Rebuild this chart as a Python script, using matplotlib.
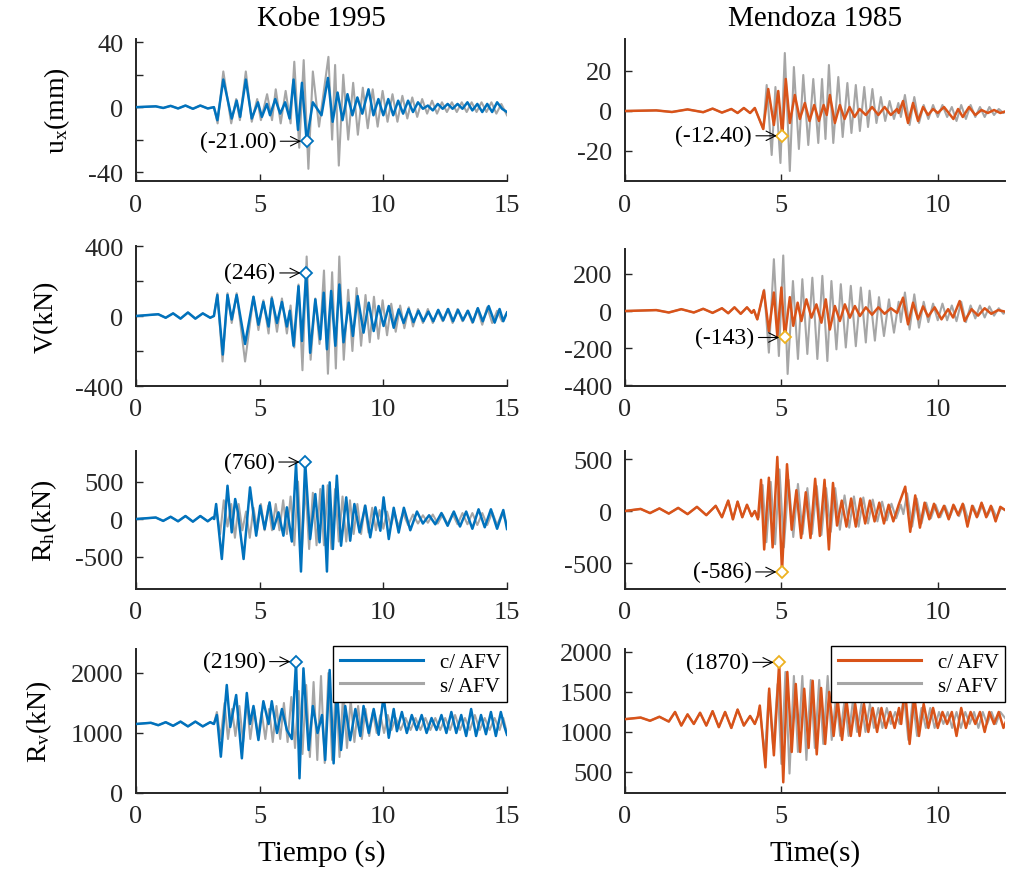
import numpy as np
import matplotlib
matplotlib.use('Agg')
import matplotlib.pyplot as plt

plt.rcParams['font.family'] = 'Liberation Serif'
plt.rcParams['mathtext.fontset'] = 'custom'
plt.rcParams['mathtext.rm'] = 'Liberation Serif'
plt.rcParams['mathtext.it'] = 'Liberation Serif:italic'
plt.rcParams['axes.unicode_minus'] = False

# ---------------- data (time s, value) ----------------
# Kobe 1995
kobe_ux_c = [(0,0),(0.8,0.5),(1.1,-0.5),(1.4,0.8),(1.7,-0.8),(2.0,1),(2.3,-1),(2.6,1),(2.9,-0.8),(3.15,0),
             (3.29,-8),(3.53,17),(3.87,-7),(4.07,4),(4.21,-6),(4.44,17),(4.68,-7),(4.93,3),(5.09,-6),(5.29,2),
             (5.42,-5),(5.63,5),(5.83,-4),(6.03,3),(6.21,-7),(6.37,17),(6.55,-14),(6.71,15),(6.9,-21),(7.15,3),
             (7.5,-5),(7.76,18),(7.95,-9),(8.15,9),(8.35,-8),(8.55,8),(8.75,-5),(8.95,6),(9.15,-4),(9.4,11),
             (9.6,-5),(9.8,5),(10.0,-5),(10.2,5),(10.4,-5),(10.6,4),(10.8,-4),(11.0,4),(11.2,-3),(11.4,3),
             (11.6,-1),(11.8,1),(12.0,-2),(12.2,2),(12.4,-1),(12.6,2),(12.8,-1),(13.0,2),(13.2,-1),(13.4,3),
             (13.6,-2),(13.8,2),(14.0,-3),(14.2,2),(14.4,-3),(14.6,3),(14.8,-1),(15.0,-3)]
kobe_ux_s = [(0,0),(0.8,0.5),(1.1,-0.5),(1.4,0.8),(1.7,-0.8),(2.0,1),(2.3,-1),(2.6,1),(2.9,-0.8),(3.15,0),
             (3.3,-10),(3.53,22),(3.85,-10),(4.05,5),(4.2,-8),(4.44,22),(4.68,-9),(4.9,5),(5.05,-8),(5.3,8),
             (5.5,-8),(5.65,11),(5.85,-10),(6.05,10),(6.25,-10),(6.4,28),(6.6,-25),(6.78,29),(6.97,-38),(7.15,22),
             (7.4,-12),(7.78,31),(7.93,-20),(8.05,26),(8.2,-36),(8.38,20),(8.58,-20),(8.78,15),(8.97,-17),(9.17,12),
             (9.37,-13),(9.57,11),(9.77,-12),(9.97,10),(10.17,-9),(10.37,8),(10.57,-9),(10.77,7),(10.97,-7),(11.17,6),
             (11.37,-6),(11.57,5),(11.77,-4),(11.97,4),(12.17,-4),(12.37,3),(12.57,-3),(12.77,3),(12.97,-3),(13.17,3),
             (13.37,-3),(13.57,3),(13.77,-3),(13.97,3),(14.17,-3),(14.37,3),(14.57,-4),(14.77,2),(15.0,-5)]
kobe_v_c = [(0,0),(0.9,10),(1.2,-10),(1.5,15),(1.8,-15),(2.1,20),(2.4,-15),(2.7,15),(3.0,-10),(3.15,0),
            (3.29,120),(3.51,-220),(3.70,120),(3.87,-20),(4.07,120),(4.41,-160),(4.75,110),(4.95,-50),(5.15,80),(5.36,-60),
            (5.49,100),(5.70,-40),(5.90,80),(6.10,-60),(6.22,30),(6.37,-170),(6.57,170),(6.71,-143),(6.88,246),(7.04,-210),
            (7.25,95),(7.45,-133),(7.59,133),(7.72,-190),(7.89,143),(8.06,-170),(8.22,180),(8.39,-150),(8.60,76),(8.77,-114),
            (8.96,114),(9.20,-95),(9.41,76),(9.61,-86),(9.81,57),(10.01,-57),(10.22,57),(10.42,-67),(10.62,38),(10.82,-40),
            (11.02,40),(11.22,-35),(11.42,30),(11.62,-30),(11.82,25),(12.02,-30),(12.22,35),(12.42,-25),(12.62,40),(12.82,-30),
            (13.02,35),(13.22,-25),(13.42,30),(13.62,-35),(13.82,45),(14.02,-30),(14.26,57),(14.5,-38),(14.7,40),(14.85,-30),(15.0,20)]
kobe_v_s = [(0,0),(0.9,10),(1.2,-10),(1.5,15),(1.8,-15),(2.1,20),(2.4,-15),(2.7,15),(3.0,-10),(3.15,0),
            (3.29,130),(3.5,-260),(3.7,130),(3.87,-40),(4.07,130),(4.41,-260),(4.75,110),(4.95,-80),(5.15,90),(5.36,-100),
            (5.49,110),(5.7,-90),(5.9,100),(6.1,-100),(6.25,60),(6.4,-180),(6.57,180),(6.73,-310),(6.9,340),(7.06,-250),
            (7.25,100),(7.42,-160),(7.6,260),(7.76,-330),(7.93,250),(8.08,-300),(8.22,340),(8.4,-250),(8.58,150),(8.75,-200),
            (8.92,160),(9.1,-170),(9.28,120),(9.45,-150),(9.62,110),(9.8,-130),(9.97,90),(10.15,-110),(10.32,70),(10.5,-90),
            (10.68,60),(10.85,-70),(11.03,50),(11.2,-60),(11.4,40),(11.6,-40),(11.8,40),(12.0,-40),(12.2,30),(12.4,-30),
            (12.6,40),(12.8,-40),(13.0,40),(13.2,-30),(13.4,30),(13.6,-40),(13.8,40),(14.0,-50),(14.2,50),(14.4,-40),
            (14.6,30),(14.8,-30),(15.0,20)]
kobe_rh_c = [(0,0),(0.8,20),(1.1,-25),(1.4,30),(1.7,-30),(2.0,40),(2.3,-35),(2.6,40),(2.9,-30),(3.1,20),(3.16,0),
             (3.24,200),(3.47,-533),(3.70,444),(3.87,-178),(4.01,267),(4.12,90),(4.35,-533),(4.61,422),(4.86,-222),(5.02,178),
             (5.20,-133),(5.40,222),(5.56,-133),(5.76,89),(5.96,-222),(6.10,156),(6.3,-300),(6.47,740),(6.67,-700),(6.84,760),
             (7.04,-267),(7.25,333),(7.42,-311),(7.56,444),(7.72,-700),(7.83,489),(7.96,-400),(8.12,578),(8.29,-356),(8.50,289),
             (8.66,-289),(8.83,200),(9.04,-178),(9.27,178),(9.47,-244),(9.68,156),(9.88,-156),(10.01,289),(10.22,-267),(10.42,150),
             (10.62,-180),(10.83,150),(11.09,-150),(11.36,100),(11.6,-60),(11.85,50),(12.1,-70),(12.35,80),(12.6,-90),(12.85,100),
             (13.1,-100),(13.35,100),(13.6,-130),(13.85,130),(14.1,-110),(14.35,130),(14.6,-130),(14.85,120),(15.0,-133)]
kobe_rh_s = [(0,0),(0.8,20),(1.1,-25),(1.4,30),(1.7,-30),(2.0,40),(2.3,-35),(2.6,40),(2.9,-30),(3.1,20),(3.16,0),
             (3.24,150),(3.4,-200),(3.55,250),(3.7,-100),(3.85,200),(4.0,-250),(4.15,200),(4.3,-150),(4.45,100),(4.6,-250),
             (4.75,150),(4.9,-150),(5.05,200),(5.2,-150),(5.35,180),(5.5,-150),(5.65,200),(5.8,-150),(5.95,250),(6.1,-200),
             (6.25,300),(6.4,-350),(6.55,500),(6.7,-450),(6.85,450),(7.0,-400),(7.15,350),(7.3,-350),(7.45,400),(7.6,-350),
             (7.75,450),(7.9,-400),(8.05,400),(8.2,-300),(8.35,300),(8.5,-300),(8.65,250),(8.8,-200),(8.95,200),(9.1,-200),
             (9.25,180),(9.4,-180),(9.55,150),(9.7,-150),(9.85,120),(10.0,-130),(10.15,100),(10.3,-100),(10.45,90),(10.6,-100),
             (10.8,80),(11.0,-80),(11.2,60),(11.4,-60),(11.6,50),(11.8,-50),(12.0,60),(12.2,-60),(12.4,60),(12.6,-70),
             (12.8,70),(13.0,-70),(13.2,80),(13.4,-70),(13.6,80),(13.8,-80),(14.0,80),(14.2,-80),(14.4,90),(14.6,-80),
             (14.8,80),(15.0,-60)]
kobe_rv_c = [(0,1150),(0.6,1170),(0.9,1130),(1.2,1180),(1.5,1120),(1.8,1190),(2.1,1110),(2.4,1190),(2.7,1110),(3.0,1180),(3.15,1150),
             (3.27,1300),(3.43,605),(3.67,1800),(3.81,1100),(4.05,1633),(4.28,578),(4.48,1667),(4.61,1150),(4.75,1450),(4.95,883),
             (5.15,1530),(5.36,1150),(5.49,1530),(5.70,1000),(5.90,1400),(6.10,1050),(6.3,900),(6.47,2190),(6.61,245),(6.77,2078),
             (6.98,717),(7.15,1450),(7.34,1000),(7.52,1300),(7.65,550),(7.83,2050),(7.99,494),(8.12,1717),(8.29,717),(8.46,1450),
             (8.66,880),(8.87,1400),(9.07,950),(9.20,1450),(9.41,1000),(9.61,1400),(9.81,970),(10.01,1611),(10.22,920),(10.42,1400),
             (10.55,1030),(10.75,1350),(10.95,1000),(11.15,1300),(11.35,1050),(11.55,1300),(11.75,1000),(11.95,1250),(12.15,1050),
             (12.35,1300),(12.55,1000),(12.75,1350),(12.95,1000),(13.15,1300),(13.35,950),(13.55,1400),(13.75,950),(13.95,1300),
             (14.15,980),(14.35,1350),(14.55,950),(14.75,1350),(14.9,1100),(15.0,970)]
kobe_rv_s = [(0,1150),(0.6,1170),(0.9,1130),(1.2,1180),(1.5,1120),(1.8,1190),(2.1,1110),(2.4,1190),(2.7,1110),(3.0,1180),(3.15,1150),
             (3.27,1350),(3.42,900),(3.58,1500),(3.72,900),(3.88,1400),(4.02,950),(4.18,1450),(4.33,850),(4.48,1550),(4.62,900),
             (4.78,1400),(4.93,950),(5.08,1350),(5.23,900),(5.38,1400),(5.53,850),(5.68,1450),(5.83,900),(5.98,1500),(6.13,850),
             (6.28,1600),(6.43,750),(6.58,1700),(6.73,650),(6.88,1800),(7.03,600),(7.18,1850),(7.33,550),(7.48,1950),(7.63,500),
             (7.78,2000),(7.93,550),(8.08,1800),(8.23,600),(8.38,1700),(8.53,750),(8.68,1550),(8.83,850),(8.98,1450),(9.13,900),
             (9.28,1400),(9.43,950),(9.58,1350),(9.73,1000),(9.88,1300),(10.03,1000),(10.18,1300),(10.33,1050),(10.5,1250),
             (10.7,1050),(10.9,1250),(11.1,1050),(11.3,1250),(11.5,1050),(11.7,1250),(11.9,1050),(12.1,1250),(12.3,1050),
             (12.5,1250),(12.7,1050),(12.9,1300),(13.1,1050),(13.3,1250),(13.5,1050),(13.7,1300),(13.9,1050),(14.1,1250),
             (14.3,1050),(14.5,1250),(14.7,1050),(14.85,1250),(15.0,1000)]

# Mendoza 1985
mendoza_ux_c = [(0,0),(1.0,0.3),(1.5,-0.5),(2.0,0.8),(2.5,-0.6),(2.8,1.2),(3.1,-0.8),(3.4,1),(3.6,-1),(3.8,1.5),(4.0,-1),(4.15,1.5),
                (4.42,-9),(4.58,11),(4.76,-7),(4.9,10),(5.03,-12.4),(5.14,16),(5.27,-6),(5.43,8),(5.59,-4),(5.75,4),
                (5.9,-5),(6.05,3),(6.2,-5),(6.35,3),(6.45,-2),(6.55,8),(6.71,-6),(6.87,3),(7.02,-4),(7.18,2),(7.34,-3),
                (7.5,1),(7.7,-2),(7.9,2),(8.1,-2),(8.3,2),(8.5,-2),(8.7,1),(8.75,-1),(8.89,5),(9.05,-6),(9.21,4),(9.37,-5),
                (9.53,2),(9.69,-2),(9.85,1),(10.0,-1),(10.2,2),(10.5,-4),(10.65,1),(10.8,-3),(11.0,2),(11.2,-2),(11.4,0.5),
                (11.6,-1),(11.8,0.5),(12.0,-1),(12.2,0)]
mendoza_ux_s = [(0,0),(1.0,0.3),(1.5,-0.5),(2.0,0.8),(2.5,-0.6),(2.8,1.2),(3.1,-0.8),(3.4,1),(3.6,-1),(3.8,1.5),(4.0,-1),(4.15,1.5),
                (4.42,-9),(4.53,13),(4.69,-22),(4.81,12),(4.97,-26),(5.11,29),(5.27,-30),(5.40,22),(5.56,-19),(5.70,18),
                (5.86,-17),(6.02,16),(6.18,-16),(6.30,16),(6.41,-14),(6.52,23),(6.66,-16),(6.82,17),(6.96,-13),(7.11,14),
                (7.24,-11),(7.38,13),(7.51,-10),(7.65,12),(7.77,-8),(7.91,11),(8.04,-6),(8.18,7),(8.32,-5),(8.46,5),(8.6,-4),
                (8.74,4),(8.82,-3),(8.95,8),(9.1,-7),(9.25,7),(9.4,-6),(9.55,3),(9.7,-4),(9.85,3),(10.0,-3),(10.15,3),(10.3,-3),
                (10.45,2),(10.6,-5),(10.75,3),(10.9,-4),(11.05,3),(11.2,-3),(11.35,2),(11.5,-3),(11.65,2),(11.8,-2),(11.95,1),
                (12.1,-1),(12.2,0)]
mendoza_v_c = [(0,0),(1.0,5),(1.4,-8),(1.8,10),(2.2,-8),(2.5,12),(2.8,-10),(3.1,15),(3.3,-12),(3.5,20),(3.7,-15),(3.9,20),(4.05,-10),(4.12,5),
               (4.23,-45),(4.44,110),(4.60,-108),(4.76,100),(4.87,-135),(5.00,127),(5.11,-143),(5.27,75),(5.38,-80),(5.52,45),
               (5.64,-54),(5.80,63),(5.96,-36),(6.12,36),(6.28,-63),(6.42,63),(6.55,-100),(6.71,27),(6.87,-54),(7.03,36),
               (7.19,-36),(7.35,27),(7.51,-27),(7.7,20),(7.9,-20),(8.1,20),(8.3,-15),(8.5,15),(8.7,-10),(8.89,72),(9.05,-72),
               (9.21,45),(9.37,-45),(9.53,25),(9.69,-30),(9.90,20),(10.12,-45),(10.33,10),(10.49,-35),(10.70,54),(10.86,-54),
               (11.08,10),(11.29,-25),(11.50,15),(11.71,-15),(11.93,5),(12.2,-5)]
mendoza_v_s = [(0,0),(1.0,5),(1.4,-8),(1.8,10),(2.2,-8),(2.5,12),(2.8,-10),(3.1,15),(3.3,-12),(3.5,20),(3.7,-15),(3.9,20),(4.05,-10),(4.12,5),
               (4.23,-45),(4.45,115),(4.6,-225),(4.76,280),(4.92,-243),(5.06,300),(5.2,-340),(5.37,162),(5.53,-259),(5.67,172),
               (5.83,-232),(5.99,180),(6.15,-259),(6.31,190),(6.47,-270),(6.6,162),(6.76,-207),(6.9,145),(7.06,-197),(7.22,136),
               (7.38,-190),(7.54,127),(7.7,-170),(7.82,110),(7.99,-160),(8.12,75),(8.28,-135),(8.44,63),(8.6,-117),(8.75,50),
               (8.82,-60),(8.95,100),(9.1,-100),(9.25,90),(9.4,-90),(9.55,50),(9.7,-60),(9.85,40),(10.0,-50),(10.15,40),
               (10.3,-50),(10.45,30),(10.6,-55),(10.75,50),(10.9,-60),(11.05,30),(11.2,-40),(11.35,30),(11.5,-35),(11.65,25),
               (11.8,-25),(11.95,15),(12.1,-15),(12.2,0)]
mendoza_rh_c = [(0,0),(0.5,20),(0.8,-20),(1.1,25),(1.4,-25),(1.7,30),(2.0,-30),(2.3,40),(2.6,-40),(2.9,50),(3.1,-60),(3.3,100),
                (3.45,-80),(3.6,90),(3.75,-60),(3.9,60),(4.05,-50),(4.15,0),
                (4.25,-80),(4.35,300),(4.45,-370),(4.6,320),(4.72,-350),(4.87,520),(5.02,-586),(5.18,450),(5.33,-180),(5.48,200),
                (5.63,-260),(5.78,180),(5.93,-260),(6.08,310),(6.23,-240),(6.38,300),(6.52,-370),(6.65,270),(6.78,-140),(6.93,100),
                (7.08,-150),(7.23,120),(7.38,-150),(7.53,120),(7.68,-120),(7.83,100),(7.98,-100),(8.13,80),(8.28,-120),(8.43,60),
                (8.58,-100),(8.75,60),(8.96,234),(9.12,-200),(9.28,150),(9.43,-160),(9.58,80),(9.73,-80),(9.88,70),(10.03,-60),
                (10.2,50),(10.35,-80),(10.5,60),(10.65,-40),(10.8,70),(10.95,-150),(11.1,50),(11.25,-60),(11.4,80),(11.55,-60),
                (11.7,50),(11.85,-100),(12.0,40),(12.2,0)]
mendoza_rh_s = [(0,0),(0.5,20),(0.8,-20),(1.1,25),(1.4,-25),(1.7,30),(2.0,-30),(2.3,40),(2.6,-40),(2.9,50),(3.1,-60),(3.3,100),
                (3.45,-80),(3.6,90),(3.75,-60),(3.9,60),(4.05,-50),(4.15,0),
                (4.28,-60),(4.4,250),(4.52,-300),(4.66,280),(4.8,-320),(4.94,400),(5.08,-350),(5.23,300),(5.38,-250),(5.53,260),
                (5.68,-220),(5.83,220),(5.98,-220),(6.13,240),(6.28,-230),(6.43,220),(6.58,-200),(6.72,220),(6.87,-180),(7.02,150),
                (7.17,-160),(7.32,140),(7.47,-150),(7.62,130),(7.77,-120),(7.92,110),(8.07,-100),(8.22,90),(8.37,-90),(8.52,70),
                (8.67,-70),(8.82,60),(8.9,-30),(9.02,170),(9.18,-150),(9.33,120),(9.48,-120),(9.63,80),(9.78,-70),(9.93,60),
                (10.08,-60),(10.23,50),(10.38,-60),(10.53,50),(10.68,-50),(10.83,60),(10.98,-90),(11.13,50),(11.28,-50),(11.43,60),
                (11.58,-50),(11.73,40),(11.88,-60),(12.03,30),(12.2,0)]
mendoza_rv_c = [(0,1160),(0.5,1180),(0.8,1140),(1.1,1190),(1.4,1130),(1.6,1250),(1.8,1080),(2.0,1220),(2.2,1100),(2.4,1240),
                (2.6,1080),(2.8,1260),(3.0,1060),(3.2,1250),(3.4,1050),(3.6,1280),(3.8,1080),(4.0,1200),(4.15,1100),(4.25,1200),
                (4.31,1330),(4.49,558),(4.61,1542),(4.76,708),(4.93,1870),(5.06,371),(5.19,1750),(5.33,750),(5.46,1600),(5.6,750),
                (5.73,1540),(5.87,800),(6.0,1640),(6.13,720),(6.27,1550),(6.4,850),(6.53,1500),(6.67,950),(6.8,1400),(6.94,900),
                (7.08,1400),(7.22,950),(7.36,1350),(7.5,950),(7.64,1350),(7.78,1000),(7.92,1300),(8.06,1000),(8.2,1300),(8.34,1050),
                (8.48,1250),(8.62,1050),(8.76,1300),(8.83,1100),(8.95,1550),(9.1,850),(9.25,1450),(9.4,950),(9.55,1350),(9.7,1050),
                (9.85,1300),(10.0,1050),(10.15,1250),(10.3,1100),(10.45,1250),(10.6,950),(10.75,1300),(10.9,1050),(11.05,1250),
                (11.2,1100),(11.35,1250),(11.5,1000),(11.65,1250),(11.8,1100),(11.95,1250),(12.1,1050),(12.2,1150)]
mendoza_rv_s = [(0,1160),(0.5,1180),(0.8,1140),(1.1,1190),(1.4,1130),(1.6,1250),(1.8,1080),(2.0,1220),(2.2,1100),(2.4,1240),
                (2.6,1080),(2.8,1260),(3.0,1060),(3.2,1250),(3.4,1050),(3.6,1280),(3.8,1080),(4.0,1200),(4.15,1100),(4.25,1200),
                (4.31,1300),(4.47,700),(4.6,1500),(4.74,800),(4.88,1600),(5.0,600),(5.13,1750),(5.26,480),(5.4,1700),(5.53,750),
                (5.67,1700),(5.8,650),(5.94,1650),(6.07,800),(6.21,1650),(6.34,850),(6.48,1700),(6.61,900),(6.75,1450),(6.88,950),
                (7.02,1400),(7.15,950),(7.29,1400),(7.42,1000),(7.56,1350),(7.69,1000),(7.83,1350),(7.96,1050),(8.1,1300),(8.23,1050),
                (8.37,1300),(8.5,1100),(8.64,1250),(8.78,1100),(8.92,1450),(9.06,900),(9.2,1400),(9.34,950),(9.48,1300),(9.62,1050),
                (9.76,1300),(9.9,1050),(10.04,1250),(10.18,1100),(10.32,1250),(10.46,1050),(10.6,1250),(10.74,1050),(10.88,1250),
                (11.02,1100),(11.16,1250),(11.3,1050),(11.44,1250),(11.58,1100),(11.72,1250),(11.86,1100),(12.0,1250),(12.2,1150)]

# annotated peaks (time, value)
kobe_peaks = [(6.9, -21.0), (6.88, 246), (6.84, 760), (6.47, 2190)]
kobe_peak_labels = ['(-21.00)', '(246)', '(760)', '(2190)']
mendoza_peaks = [(5.03, -12.4), (5.11, -143), (5.02, -586), (4.93, 1870)]
mendoza_peak_labels = ['(-12.40)', '(-143)', '(-586)', '(1870)']

ylabels = [r'u$_{\mathrm{x}}$(mm)', 'V(kN)', r'R$_{\mathrm{h}}$(kN)', r'R$_{\mathrm{v}}$(kN)']

# ---------------- styling ----------------
blue = '#0072BD'
orange = '#D95319'
gold = '#EDB120'
grey = '#A6A6A6'
axcol = '#262626'

W, H = 1012, 879
fig = plt.figure(figsize=(W / 100, H / 100), dpi=100)

# axes boxes in pixels: (left, top, right, bottom)
left_boxes = [(136, 40, 507, 182), (136, 247, 507, 387), (136, 452, 507, 590), (136, 650, 507, 794)]
right_boxes = [(625, 40, 1005, 182), (625, 250, 1005, 387), (625, 452, 1005, 590), (625, 650, 1005, 794)]

left_ylims = [(-45.5, 42), (-400, 400), (-933, 907), (0, 2400)]
right_ylims = [(-35, 36), (-405, 335), (-750, 577), (237, 2037)]
left_yticks = [[-40, -20, 0, 20, 40], [-400, -200, 0, 200, 400], [-500, 0, 500], [0, 1000, 2000]]
left_yticklabels = [['-40', '', '0', '', '40'], ['-400', '', '0', '', '400'], ['-500', '0', '500'], ['0', '1000', '2000']]
right_yticks = [[-20, 0, 20], [-400, -200, 0, 200], [-500, 0, 500], [500, 1000, 1500, 2000]]

kobe_series = [(kobe_ux_c, kobe_ux_s), (kobe_v_c, kobe_v_s), (kobe_rh_c, kobe_rh_s), (kobe_rv_c, kobe_rv_s)]
mendoza_series = [(mendoza_ux_c, mendoza_ux_s), (mendoza_v_c, mendoza_v_s),
                  (mendoza_rh_c, mendoza_rh_s), (mendoza_rv_c, mendoza_rv_s)]


def make_ax(box):
    l, t, r, b = box
    ax = fig.add_axes([l / W, 1 - b / H, (r - l) / W, (b - t) / H])
    for s in ['top', 'right']:
        ax.spines[s].set_visible(False)
    for s in ['left', 'bottom']:
        ax.spines[s].set_color(axcol)
        ax.spines[s].set_linewidth(1.4)
    ax.tick_params(direction='in', length=5, width=1.0, colors=axcol, labelsize=19, pad=9)
    ax.patch.set_alpha(0)
    return ax


def draw(ax, c_data, s_data, color, peak, peak_label, mcolor):
    tc, vc = zip(*c_data)
    ts, vs = zip(*s_data)
    hs, = ax.plot(ts, vs, color=grey, lw=1.5, zorder=2)
    hc, = ax.plot(tc, vc, color=color, lw=1.8, zorder=3)
    ax.plot([peak[0]], [peak[1]], marker='D', ms=6, mec=mcolor, mfc='white', mew=1.3, zorder=4)
    ax.annotate(peak_label, xy=peak, xytext=(-22, 0), textcoords='offset points',
                ha='right', va='center', fontsize=17, color='black', zorder=5,
                arrowprops=dict(arrowstyle='->', color='black', lw=0.8, shrinkA=1, shrinkB=4))
    return hc, hs


def add_legend(ax, hc, hs):
    leg = ax.legend([hc, hs], ['c/ AFV', 's/ AFV'], loc='upper right', bbox_to_anchor=(1.0, 1.02),
                    borderaxespad=0, fontsize=15, handlelength=4, fancybox=False, framealpha=1,
                    edgecolor='black', borderpad=0.3, labelspacing=0.2)
    leg.get_frame().set_linewidth(1.0)
    for line in leg.get_lines():
        line.set_linewidth(2.2)


for i in range(4):
    # Kobe column
    ax = make_ax(left_boxes[i])
    hc, hs = draw(ax, kobe_series[i][0], kobe_series[i][1], blue, kobe_peaks[i], kobe_peak_labels[i], blue)
    ax.set_xlim(0, 15)
    ax.set_xticks([0, 5, 10, 15])
    ax.set_ylim(*left_ylims[i])
    ax.set_yticks(left_yticks[i])
    ax.set_yticklabels(left_yticklabels[i])
    ax.set_ylabel(ylabels[i], fontsize=20, labelpad=12)
    if i == 0:
        ax.set_title('Kobe 1995', fontsize=21, pad=10)
    if i == 3:
        ax.set_xlabel('Tiempo (s)', fontsize=21, labelpad=8)
        add_legend(ax, hc, hs)

    # Mendoza column
    ax = make_ax(right_boxes[i])
    hc, hs = draw(ax, mendoza_series[i][0], mendoza_series[i][1], orange, mendoza_peaks[i],
                  mendoza_peak_labels[i], gold)
    ax.set_xlim(0, 12.15)
    ax.set_xticks([0, 5, 10])
    ax.set_ylim(*right_ylims[i])
    ax.set_yticks(right_yticks[i])
    if i == 0:
        ax.set_title('Mendoza 1985', fontsize=21, pad=10)
    if i == 3:
        ax.set_xlabel('Time(s)', fontsize=21, labelpad=8)
        add_legend(ax, hc, hs)

fig.savefig('out.png', dpi=100)
